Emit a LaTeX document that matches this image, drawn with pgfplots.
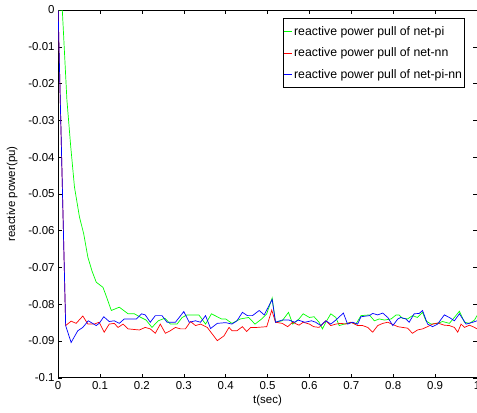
\documentclass[border=0pt]{standalone}
\usepackage{fontspec}
\setmainfont{Liberation Sans}
\usepackage{pgfplots}
\pgfplotsset{compat=1.18}

\begin{document}
\begin{tikzpicture}[x=1bp,y=1bp]
\begin{axis}[
  scale only axis, width=418bp, height=367bp,
  xmin=0, xmax=1, ymin=-0.1, ymax=0,
  xtick={0,0.1,...,1.0},
  xticklabels={0,0.1,0.2,0.3,0.4,0.5,0.6,0.7,0.8,0.9,1},
  ytick={-0.1,-0.09,...,0},
  yticklabels={-0.1,-0.09,-0.08,-0.07,-0.06,-0.05,-0.04,-0.03,-0.02,-0.01,0},
  tick align=inside, tick style={black, line width=0.5pt}, major tick length=4bp,
  ticklabel style={font=\fontsize{11.5}{13}\selectfont},
  /pgf/number format/assume math mode=true,
  xlabel={t(sec)}, ylabel={reactive power(pu)},
  label style={font=\fontsize{11.5}{13}\selectfont},
  xlabel style={yshift=1bp}, ylabel style={yshift=4bp},
  axis line style={black, line width=0.6pt},
  legend style={at={(0.971,0.978)}, anchor=north east, draw=black,
    font=\fontsize{12.3}{14}\selectfont, inner xsep=1bp, inner ysep=6bp, row sep=7bp,
    line width=0.6pt, nodes={inner xsep=1.5bp}},
  legend cell align=left,
  legend image code/.code={\draw[#1, line width=0.6pt] (-1bp,0bp) -- (7bp,0bp);},
  every axis plot/.append style={line width=0.7pt},
]
\addplot[color={rgb,255:red,0;green,255;blue,0}] coordinates {
(0,0) (0.01,0) (0.021,-0.0245) (0.03,-0.037) (0.039,-0.0481) (0.051,-0.0563)
(0.061,-0.0608) (0.071,-0.0672) (0.081,-0.0710) (0.091,-0.0740) (0.107,-0.0754)
(0.113,-0.0772) (0.127,-0.0817) (0.146,-0.0808) (0.167,-0.0826) (0.182,-0.0826)
(0.196,-0.0835) (0.21,-0.0843) (0.224,-0.0863) (0.239,-0.0845) (0.255,-0.0838)
(0.268,-0.0854) (0.284,-0.0854) (0.296,-0.0836) (0.308,-0.0829) (0.336,-0.0829)
(0.352,-0.0854) (0.366,-0.0826) (0.39,-0.0840) (0.40,-0.0840) (0.415,-0.0852)
(0.435,-0.0840) (0.455,-0.0836) (0.47,-0.0854) (0.486,-0.0840) (0.498,-0.0826)
(0.511,-0.0783) (0.519,-0.0849) (0.535,-0.0845) (0.55,-0.0822) (0.56,-0.0854)
(0.575,-0.0840) (0.585,-0.0826) (0.6,-0.0836) (0.611,-0.0834) (0.623,-0.0849)
(0.631,-0.0867) (0.639,-0.0849) (0.651,-0.0826) (0.663,-0.0836) (0.671,-0.0858)
(0.683,-0.0854) (0.699,-0.0849) (0.711,-0.0854) (0.723,-0.0831) (0.743,-0.0829)
(0.755,-0.0845) (0.767,-0.0840) (0.779,-0.0843) (0.795,-0.0840) (0.807,-0.0829)
(0.814,-0.0829) (0.822,-0.0838) (0.834,-0.0840) (0.846,-0.0831) (0.858,-0.0836)
(0.87,-0.0822) (0.878,-0.0845) (0.89,-0.0854) (0.906,-0.0852) (0.918,-0.0847)
(0.934,-0.0852) (0.946,-0.0836) (0.958,-0.0819) (0.97,-0.0849) (0.982,-0.0852)
(0.994,-0.0843) (1.0,-0.0831)
};
\addlegendentry{reactive power pull of net-pi}
\addplot[color={rgb,255:red,255;green,0;blue,0}] coordinates {
(0,0) (0.018,-0.0858) (0.031,-0.0846) (0.043,-0.0852) (0.059,-0.0832) (0.071,-0.0854)
(0.086,-0.0854) (0.098,-0.0849) (0.11,-0.0876) (0.122,-0.0854) (0.134,-0.0852)
(0.143,-0.0863) (0.155,-0.0854) (0.167,-0.0867) (0.194,-0.0870) (0.208,-0.0863)
(0.22,-0.0867) (0.232,-0.0879) (0.244,-0.0854) (0.256,-0.0879) (0.268,-0.0872)
(0.28,-0.0863) (0.292,-0.0867) (0.304,-0.0867) (0.316,-0.0847) (0.328,-0.0858)
(0.34,-0.0854) (0.356,-0.0863) (0.368,-0.0881) (0.38,-0.0899) (0.396,-0.0886)
(0.408,-0.0863) (0.415,-0.0872) (0.427,-0.0872) (0.44,-0.0861) (0.45,-0.0874)
(0.46,-0.0863) (0.475,-0.0863) (0.498,-0.0861) (0.51,-0.0816) (0.519,-0.0849)
(0.535,-0.0852) (0.548,-0.0861) (0.56,-0.0849) (0.575,-0.0857) (0.585,-0.0849)
(0.6,-0.0854) (0.61,-0.0861) (0.623,-0.0863) (0.639,-0.0845) (0.651,-0.0858)
(0.663,-0.0854) (0.675,-0.0852) (0.687,-0.0854) (0.699,-0.0849) (0.715,-0.0858)
(0.727,-0.0858) (0.739,-0.0863) (0.751,-0.0876) (0.763,-0.0858) (0.775,-0.0852)
(0.787,-0.0849) (0.799,-0.0855) (0.811,-0.0861) (0.822,-0.0863) (0.834,-0.0865)
(0.846,-0.0879) (0.858,-0.0870) (0.87,-0.0867) (0.882,-0.0861) (0.894,-0.0854)
(0.906,-0.0851) (0.922,-0.0857) (0.934,-0.0858) (0.946,-0.0863) (0.954,-0.0876)
(0.962,-0.0854) (0.97,-0.0863) (0.982,-0.0857) (0.994,-0.0863) (1.0,-0.0867)
};
\addlegendentry{reactive power pull of net-nn}
\addplot[color={rgb,255:red,0;green,0;blue,255}] coordinates {
(0,0) (0.018,-0.0858) (0.031,-0.0904) (0.047,-0.0872) (0.059,-0.0863) (0.072,-0.0845)
(0.091,-0.0858) (0.098,-0.0852) (0.109,-0.0834) (0.122,-0.0847) (0.134,-0.0845)
(0.146,-0.0852) (0.158,-0.0840) (0.187,-0.0840) (0.199,-0.0826) (0.208,-0.0829)
(0.22,-0.0849) (0.232,-0.0831) (0.248,-0.0831) (0.26,-0.0849) (0.28,-0.0849)
(0.30,-0.0820) (0.313,-0.0849) (0.328,-0.0845) (0.34,-0.0849) (0.352,-0.0831)
(0.364,-0.0866) (0.38,-0.0852) (0.40,-0.0850) (0.415,-0.0854) (0.427,-0.0845)
(0.44,-0.0822) (0.452,-0.0831) (0.464,-0.0831) (0.48,-0.0817) (0.492,-0.0829)
(0.511,-0.0787) (0.519,-0.0849) (0.535,-0.0843) (0.551,-0.0843) (0.565,-0.0849)
(0.573,-0.0843) (0.589,-0.0849) (0.605,-0.0845) (0.615,-0.0849) (0.627,-0.0858)
(0.639,-0.0845) (0.651,-0.0854) (0.663,-0.0843) (0.681,-0.0824) (0.691,-0.0854)
(0.703,-0.0849) (0.715,-0.0854) (0.723,-0.0834) (0.743,-0.0831) (0.751,-0.0825)
(0.763,-0.0829) (0.775,-0.0824) (0.787,-0.0836) (0.799,-0.0858) (0.811,-0.0840)
(0.818,-0.0836) (0.83,-0.0840) (0.838,-0.0849) (0.85,-0.0826) (0.862,-0.0825)
(0.87,-0.0817) (0.882,-0.0854) (0.894,-0.0861) (0.906,-0.0854) (0.922,-0.0829)
(0.934,-0.0836) (0.946,-0.0845) (0.958,-0.0826) (0.974,-0.0854) (0.99,-0.0849)
(1.0,-0.0845)
};
\addlegendentry{reactive power pull of net-pi-nn}
\end{axis}
\pgfresetboundingbox
\path (current axis.south west) ++(-58bp,-35bp) rectangle ([yshift=10bp]current axis.north east);
\end{tikzpicture}
\end{document}
